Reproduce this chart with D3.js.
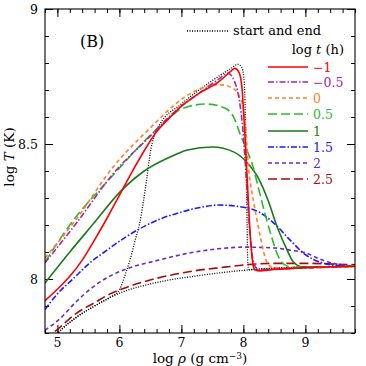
<!DOCTYPE html>
<html><head><meta charset="utf-8">
<script src="https://cdn.jsdelivr.net/npm/d3@7"></script>
<style>body{margin:0;background:#fff}svg{display:block}text{font-family:"DejaVu Serif",serif}</style>
</head><body><svg id="c" width="366" height="366"></svg>
<script>
const xTicks = [5, 6, 7, 8, 9];
const yTicks = [8, 8.5, 9];
const yTickLabels = ["8", "8.5", "9"];
const seriesLabels = ["\u22121", "\u22120.5", "0", "0.5", "1", "1.5", "2", "2.5"];
const seriesColors = ["#ff0000", "#a02aa8", "#ff7f2a", "#2eb82e", "#1a7a1a", "#1a1aff", "#6a28c8", "#a80a0a"];
const seriesDash = ["", "6,2,1.5,2", "4,3", "9,4", "", "6,2,1.5,2", "4,3", "9,4"];

const startCurve = [[4.8,7.735],[5.0,7.797],[5.3,7.857],[5.6,7.90],[5.85,7.932],[6.1,7.956],[6.4,7.976],[6.7,7.992],[7.2,8.01],[7.7,8.025],[8.0,8.032],[8.5,8.04],[9.0,8.044],[9.8,8.047]];
const endCurve = [[4.8,7.735],[5.0,7.797],[5.3,7.857],[5.6,7.90],[5.85,7.932],[6.0,7.96],[6.1,8.02],[6.17,8.07],[6.25,8.14],[6.33,8.21],[6.44,8.37],[6.5,8.47],[6.56,8.53],[6.65,8.572],[7.0,8.648],[7.5,8.735],[7.8,8.78],[7.91,8.795],[7.97,8.785],[8.01,8.74],[8.04,8.5],[8.06,8.2],[8.07,8.06],[8.09,8.035],[8.5,8.04],[9.0,8.044],[9.8,8.047]];

const sM1 = [[4.8,7.92],[5.0,7.962],[5.2,8.01],[5.4,8.07],[5.6,8.145],[5.8,8.225],[6.0,8.31],[6.2,8.395],[6.4,8.475],[6.6,8.545],[6.8,8.595],[7.0,8.64],[7.3,8.69],[7.6,8.73],[7.8,8.77],[7.86,8.78],[7.93,8.765],[7.98,8.70],[8.02,8.55],[8.06,8.38],[8.10,8.2],[8.14,8.08],[8.18,8.035],[8.25,8.03],[8.5,8.035],[9.0,8.042],[9.8,8.047]];
const sM05 = [[4.8,8.06],[5.3,8.205],[5.9,8.39],[6.5,8.53],[6.8,8.60],[7.0,8.64],[7.3,8.69],[7.6,8.74],[7.75,8.762],[7.85,8.735],[7.92,8.68],[7.98,8.58],[8.03,8.43],[8.08,8.25],[8.13,8.11],[8.18,8.05],[8.25,8.035],[8.5,8.037],[9.8,8.047]];
const s0 = [[4.8,8.078],[5.3,8.22],[5.9,8.415],[6.5,8.56],[7.0,8.665],[7.3,8.705],[7.6,8.72],[7.8,8.71],[7.95,8.67],[8.03,8.58],[8.08,8.42],[8.17,8.28],[8.27,8.16],[8.35,8.08],[8.45,8.045],[8.7,8.04],[9.8,8.047]];
const s05 = [[4.8,8.063],[5.2,8.20],[5.9,8.385],[6.5,8.533],[6.8,8.596],[7.0,8.63],[7.4,8.648],[7.7,8.633],[7.85,8.596],[7.95,8.535],[8.05,8.48],[8.15,8.42],[8.25,8.33],[8.35,8.24],[8.45,8.16],[8.55,8.09],[8.65,8.055],[8.8,8.043],[9.8,8.047]];
const s1 = [[4.8,7.985],[5.2,8.10],[5.6,8.21],[6.0,8.32],[6.4,8.40],[6.8,8.45],[7.1,8.478],[7.5,8.489],[7.85,8.47],[8.1,8.42],[8.25,8.37],[8.4,8.29],[8.55,8.19],[8.7,8.11],[8.8,8.065],[8.95,8.045],[9.8,8.047]];
const s15 = [[4.8,7.887],[5.0,7.945],[5.25,8.0],[5.5,8.055],[5.8,8.107],[6.1,8.155],[6.4,8.195],[6.7,8.226],[7.0,8.248],[7.3,8.265],[7.6,8.274],[8.0,8.266],[8.25,8.248],[8.5,8.205],[8.75,8.145],[9.0,8.09],[9.3,8.058],[9.6,8.048],[9.8,8.047]];
const s2 = [[4.8,7.81],[5.05,7.855],[5.3,7.915],[5.55,7.966],[5.8,8.005],[6.15,8.04],[6.6,8.068],[7.1,8.095],[7.6,8.112],[8.0,8.118],[8.5,8.115],[8.75,8.107],[9.0,8.097],[9.25,8.072],[9.5,8.055],[9.8,8.048]];
const s25 = [[4.8,7.775],[5.05,7.823],[5.3,7.872],[5.6,7.912],[5.85,7.945],[6.1,7.968],[6.4,7.99],[6.7,8.008],[7.2,8.03],[7.7,8.044],[8.0,8.052],[8.5,8.058],[9.0,8.058],[9.5,8.055],[9.8,8.053]];
const seriesValues = [sM1, sM05, s0, s05, s1, s15, s2, s25];

const L = 45, R = 355, T = 9, B = 333;
const svg = d3.select("#c");
const x = d3.scaleLinear().domain([4.8, 9.8]).range([L, R]);
const y = d3.scaleLinear().domain([7.8, 9]).range([B, T]);

svg.append("defs").append("clipPath").attr("id", "clip")
  .append("rect").attr("x", L).attr("y", T).attr("width", R - L).attr("height", B - T);

const xMinor = d3.range(4.8, 9.81, 0.2).map(v => +v.toFixed(2));
const yMinor = d3.range(7.8, 9.001, 0.1).map(v => +v.toFixed(2));
const inward = (g) => { g.select(".domain").remove(); g.selectAll("line").attr("stroke", "#000").attr("stroke-width", 1); };

let g;
g = svg.append("g").attr("transform", `translate(0,${B})`).call(d3.axisTop(x).tickValues(xMinor).tickSize(4).tickFormat("")); inward(g);
g = svg.append("g").attr("transform", `translate(0,${B})`).call(d3.axisTop(x).tickValues(xTicks).tickSize(8).tickFormat("")); inward(g);
g = svg.append("g").attr("transform", `translate(0,${T})`).call(d3.axisBottom(x).tickValues(xMinor).tickSize(4).tickFormat("")); inward(g);
g = svg.append("g").attr("transform", `translate(0,${T})`).call(d3.axisBottom(x).tickValues(xTicks).tickSize(8).tickFormat("")); inward(g);
g = svg.append("g").attr("transform", `translate(${L},0)`).call(d3.axisRight(y).tickValues(yMinor).tickSize(4).tickFormat("")); inward(g);
g = svg.append("g").attr("transform", `translate(${L},0)`).call(d3.axisRight(y).tickValues(yTicks).tickSize(8).tickFormat("")); inward(g);
g = svg.append("g").attr("transform", `translate(${R},0)`).call(d3.axisLeft(y).tickValues(yMinor).tickSize(4).tickFormat("")); inward(g);
g = svg.append("g").attr("transform", `translate(${R},0)`).call(d3.axisLeft(y).tickValues(yTicks).tickSize(8).tickFormat("")); inward(g);

svg.append("g").selectAll("text").data(xTicks).join("text")
  .attr("x", d => x(d)).attr("y", B + 14).attr("text-anchor", "middle")
  .attr("font-size", 12.5).text(d => d);
svg.append("g").selectAll("text").data(yTicks).join("text")
  .attr("x", L - 7).attr("y", d => y(d) + 4.5).attr("text-anchor", "end")
  .attr("font-size", 12.5).text((d, i) => yTickLabels[i]);

const line = d3.line().x(d => x(d[0])).y(d => y(d[1])).curve(d3.curveMonotoneX);
const plot = svg.append("g").attr("clip-path", "url(#clip)");
[startCurve, endCurve].forEach(c => {
  plot.append("path").attr("d", line(c)).attr("fill", "none")
    .attr("stroke", "#000").attr("stroke-width", 1.3).attr("stroke-dasharray", "1,1.5");
});
seriesValues.slice().reverse().forEach((c, ri) => {
  const i = seriesValues.length - 1 - ri;
  plot.append("path").attr("d", line(c)).attr("fill", "none")
    .attr("stroke", seriesColors[i]).attr("stroke-width", 1.6)
    .attr("stroke-dasharray", seriesDash[i] || null);
});

svg.append("rect").attr("x", L).attr("y", T).attr("width", R - L).attr("height", B - T)
  .attr("fill", "none").attr("stroke", "#000").attr("stroke-width", 1.1);

svg.append("text").attr("x", 80).attr("y", 47).attr("font-size", 16).text("(B)");

svg.append("line").attr("x1", 187).attr("x2", 228).attr("y1", 31).attr("y2", 31)
  .attr("stroke", "#000").attr("stroke-width", 1.3).attr("stroke-dasharray", "1,1.5");
svg.append("text").attr("x", 233).attr("y", 35).attr("font-size", 13).text("start and end");
const lt = svg.append("text").attr("x", 344).attr("y", 54).attr("font-size", 13).attr("text-anchor", "end");
lt.append("tspan").text("log ");
lt.append("tspan").attr("font-style", "italic").text("t");
lt.append("tspan").text(" (h)");
const legY = [67, 82, 98, 114, 131, 147, 163, 179];
const lg = svg.append("g").selectAll("g").data(seriesLabels).join("g");
lg.append("line").attr("x1", 268).attr("x2", 308).attr("y1", (d, i) => legY[i]).attr("y2", (d, i) => legY[i])
  .attr("stroke", (d, i) => seriesColors[i]).attr("stroke-width", 1.6)
  .attr("stroke-dasharray", (d, i) => seriesDash[i] || null);
lg.append("text").attr("x", 313).attr("y", (d, i) => legY[i] + 4.5).attr("font-size", 12.5)
  .attr("fill", (d, i) => seriesColors[i]).text(d => d);

const xt = svg.append("text").attr("x", 200).attr("y", 363).attr("text-anchor", "middle").attr("font-size", 13.5);
xt.append("tspan").text("log ");
xt.append("tspan").attr("font-style", "italic").text("\u03c1");
xt.append("tspan").text("  (g  cm");
xt.append("tspan").attr("font-size", 9).attr("dy", -4.5).text("\u22123");
xt.append("tspan").attr("dy", 4.5).text(")");
const yt = svg.append("text").attr("transform", "translate(14,157) rotate(-90)").attr("text-anchor", "middle").attr("font-size", 13.5);
yt.append("tspan").text("log ");
yt.append("tspan").attr("font-style", "italic").text("T");
yt.append("tspan").text(" (K)");
</script></body></html>
